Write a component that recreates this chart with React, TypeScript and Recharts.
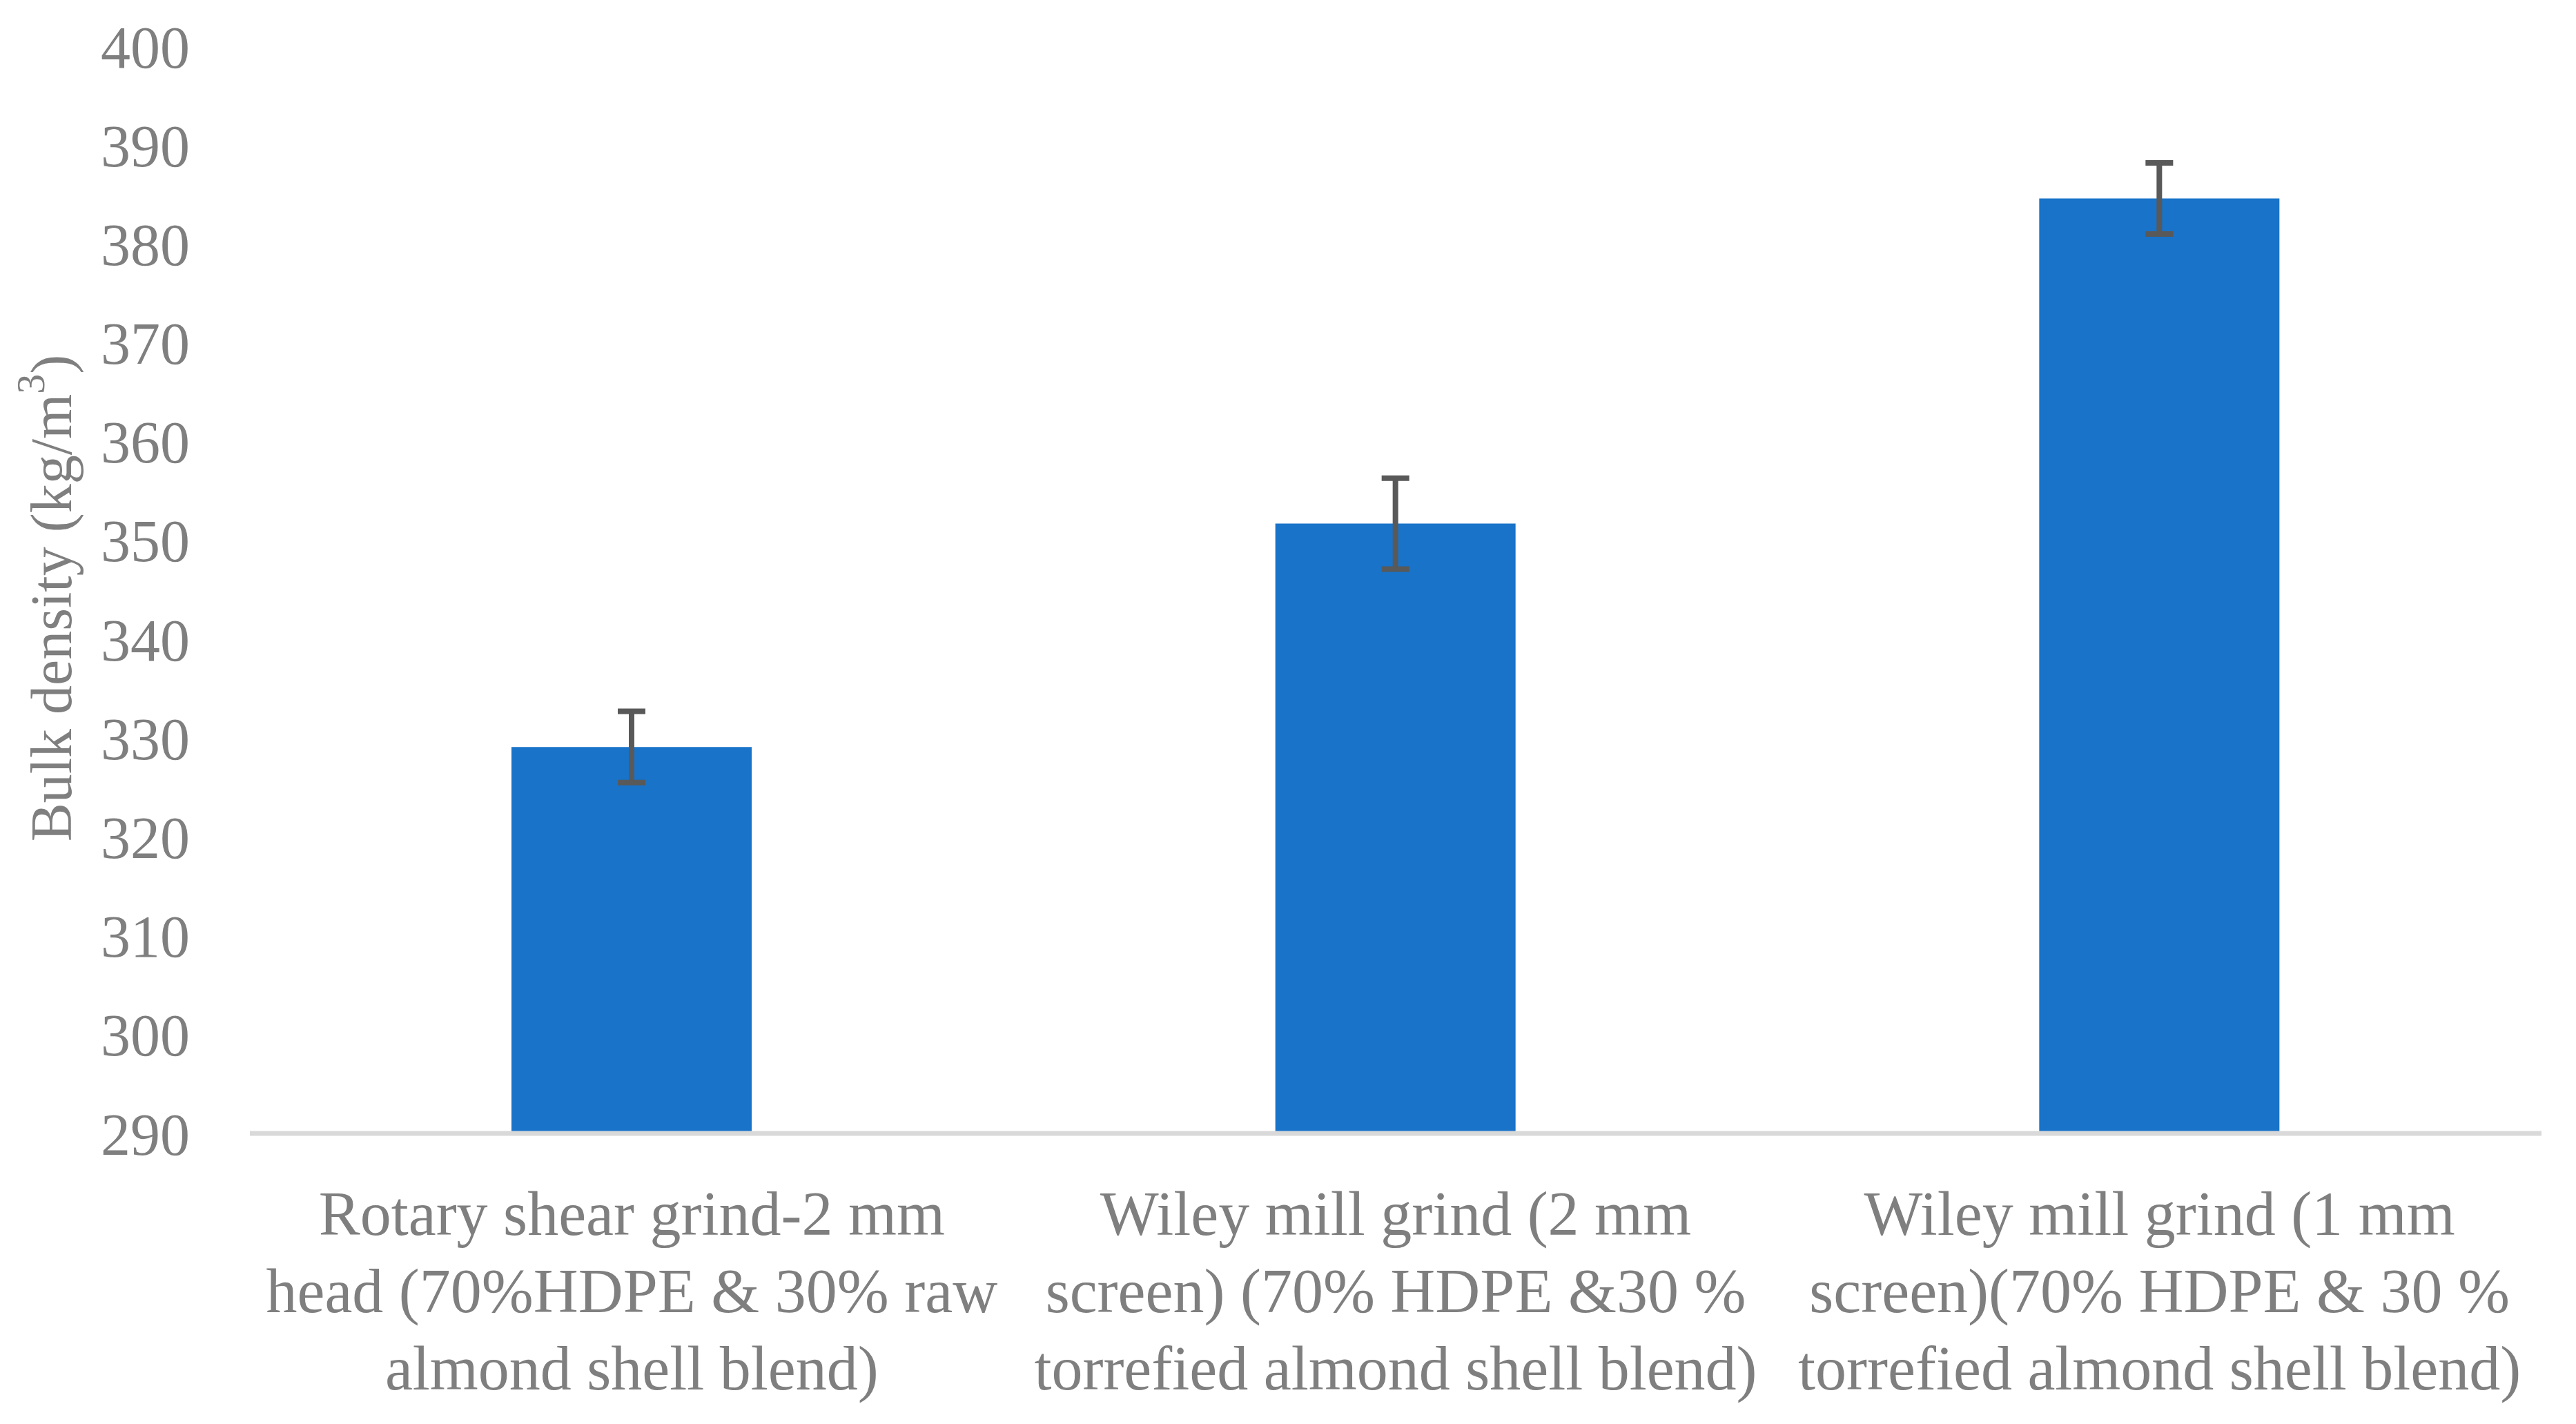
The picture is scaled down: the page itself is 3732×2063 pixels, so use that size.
import { Bar, BarChart, ErrorBar, XAxis, YAxis } from "recharts";

// Bulk density of HDPE / almond shell blends by grinding method.
const categoryLines: string[][] = [
  ["Rotary shear grind-2 mm", "head (70%HDPE & 30% raw", "almond shell blend)"],
  ["Wiley mill grind (2 mm", "screen) (70% HDPE &30 %", "torrefied almond shell blend)"],
  ["Wiley mill grind (1 mm", "screen)(70% HDPE & 30 %", "torrefied almond shell blend)"],
];
const categories = categoryLines.map((lines) => lines.join(" "));
const bulkDensity = [329.1, 351.7, 384.6];
const densityError = [3.6, 4.6, 3.6];
const yTicks = [290, 300, 310, 320, 330, 340, 350, 360, 370, 380, 390, 400];

const data = categories.map((name, i) => ({
  name,
  density: bulkDensity[i],
  err: densityError[i],
}));

const FONT = "'Liberation Serif', 'Times New Roman', serif";
const TEXT = "#7f7f7f";

function CategoryTick(props: any) {
  const { x, y, payload } = props;
  const lines = categoryLines[payload.index] ?? [String(payload.value)];
  return (
    <text x={x} y={y} textAnchor="middle" fill={TEXT} fontFamily={FONT} fontSize={90}>
      {lines.map((line, i) => (
        <tspan key={i} x={x} dy={i === 0 ? 0 : 112}>
          {line}
        </tspan>
      ))}
    </text>
  );
}

function YTitle(props: any) {
  const vb = props.viewBox;
  const cx = vb.x + 74;
  const cy = vb.y + vb.height / 2 + 12;
  return (
    <text
      x={cx}
      y={cy}
      transform={`rotate(-90 ${cx} ${cy})`}
      textAnchor="middle"
      dominantBaseline="central"
      fill={TEXT}
      fontFamily={FONT}
      fontSize={84}
    >
      Bulk density (kg/m
      <tspan dy={-30} fontSize={58}>3</tspan>
      <tspan dy={30}>)</tspan>
    </text>
  );
}

export default function App() {
  return (
    <div style={{ position: "absolute", left: 0, top: 0, width: 3732, height: 2063, background: "#fff" }}>
      <BarChart
        width={3732}
        height={2063}
        data={data}
        margin={{ top: 67, right: 50, bottom: 21, left: 0 }}
        barSize={348}
      >
        <XAxis
          dataKey="name"
          height={400}
          interval={0}
          tickLine={false}
          tickSize={0}
          tickMargin={147}
          axisLine={{ stroke: "#d9d9d9", strokeWidth: 7 }}
          tick={<CategoryTick />}
        />
        <YAxis
          width={362}
          domain={[290, 400]}
          ticks={yTicks}
          allowDataOverflow
          axisLine={false}
          tickLine={false}
          tickSize={0}
          tickMargin={87}
          tick={{ fill: TEXT, fontFamily: FONT, fontSize: 86 }}
          label={<YTitle />}
        />
        <Bar dataKey="density" fill="#1873c9" isAnimationActive={false}>
          <ErrorBar dataKey="err" width={20} stroke="#595959" strokeWidth={8} direction="y" isAnimationActive={false} />
        </Bar>
      </BarChart>
    </div>
  );
}
